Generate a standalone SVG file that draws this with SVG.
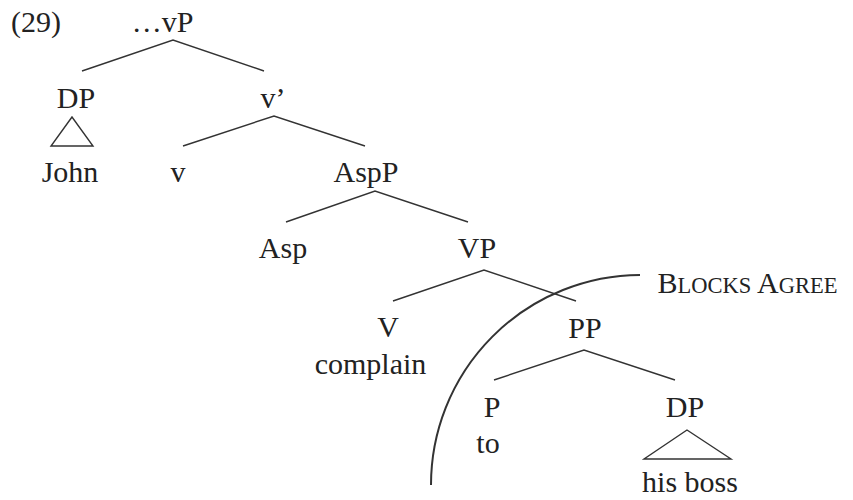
<svg xmlns="http://www.w3.org/2000/svg" width="853" height="500" viewBox="0 0 853 500">
  <style>
    .lbl { font-family: 'Liberation Serif', 'Times New Roman', Times, serif; font-size: 30px; fill: #222; text-anchor: middle; }
    .edge { stroke: #333; stroke-width: 1.4; fill: none; }
    .roof { stroke: #333; stroke-width: 1.4; fill: none; }
    .boundary { stroke: #333; stroke-width: 2; fill: none; }
    .sc { font-size: 22.5px; }
  </style>
  <rect width="853" height="500" fill="#fff"/>

  <text class="lbl" id="example-number" x="36" y="32">(29)</text>

  <g id="connectors">
    <path class="edge" d="M82 71 L173 40 L264 71"/>
    <path class="edge" d="M183 146 L274 116 L365 146"/>
    <path class="edge" d="M286 222 L375 191 L468 222"/>
    <path class="edge" d="M393 301 L484 270 L576 301"/>
    <path class="edge" d="M494 380 L584 350 L675 380"/>
  </g>

  <g id="node-vP"><text class="lbl" x="162.5" y="32">…vP</text></g>
  <g id="node-DP-subject">
    <text class="lbl" x="76" y="108">DP</text>
    <polygon class="roof" points="72,117 51,146 93,146"/>
    <text class="lbl" x="70" y="182">John</text>
  </g>
  <g id="node-vbar"><text class="lbl" x="273" y="108">v’</text></g>
  <g id="node-v"><text class="lbl" x="178" y="182">v</text></g>
  <g id="node-AspP"><text class="lbl" x="366" y="182">AspP</text></g>
  <g id="node-Asp"><text class="lbl" x="283" y="258">Asp</text></g>
  <g id="node-VP"><text class="lbl" x="477" y="258">VP</text></g>
  <g id="node-V">
    <text class="lbl" x="388" y="337">V</text>
    <text class="lbl" x="370.5" y="374">complain</text>
  </g>
  <g id="node-PP"><text class="lbl" x="585" y="338">PP</text></g>
  <g id="node-P">
    <text class="lbl" x="492" y="417">P</text>
    <text class="lbl" x="488" y="453">to</text>
  </g>
  <g id="node-DP-object">
    <text class="lbl" x="685" y="417">DP</text>
    <polygon class="roof" points="687,430 644,459 731,459"/>
    <text class="lbl" x="690" y="492">his boss</text>
  </g>

  <g id="agree-boundary">
    <path class="boundary" d="M640 275 A210 210 0 0 0 431 485"/>
    <text class="lbl" x="747.5" y="293">B<tspan class="sc">LOCKS</tspan> A<tspan class="sc">GREE</tspan></text>
  </g>
</svg>
